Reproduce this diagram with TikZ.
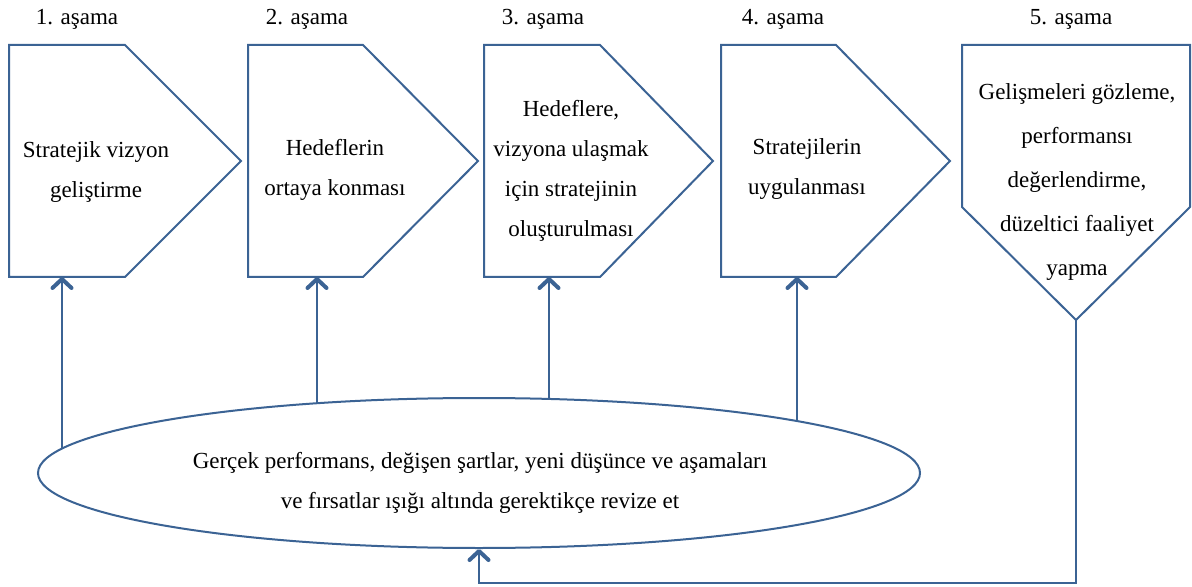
\documentclass[tikz,border=0pt]{standalone}
\usepackage{fontspec}
\setmainfont{Liberation Serif}
\usetikzlibrary{arrows.meta,calc,shapes.geometric}
\definecolor{edgeblue}{RGB}{59,99,148}

% pentagon outlines built on a rectangular body node
\newcommand\pentright[2]{\draw[outline] (#1.north west) -- (#1.north east)
  -- ($(#1.east)+(#2,0)$) -- (#1.south east) -- (#1.south west) -- cycle;}
\newcommand\pentdown[2]{\draw[outline] (#1.north west) -- (#1.north east)
  -- (#1.south east) -- ($(#1.south)+(0,#2)$) -- (#1.south west) -- cycle;}

\begin{document}
\begin{tikzpicture}[x=0.5pt,y=-0.5pt,
  stagebody/.style={rectangle,draw=none,inner sep=0pt,outer sep=0pt},
  outline/.style={draw=edgeblue,line width=1pt,line join=miter},
  stagetext/.style={align=center,inner sep=0pt,font=\fontsize{11.5}{20}\selectfont},
  stagelabel/.style={anchor=base,inner sep=0pt,font=\fontsize{11.5}{14}\selectfont},
  conn/.style={draw=edgeblue,line width=1.4pt},
  feedback/.style={conn,-{Straight Barb[round,length=4.5pt,width=9.5pt,line width=2pt]}}]

\fill[white] (0,0) rectangle (1192,587);
\useasboundingbox (0,0) rectangle (1192,587);

% stage bodies
\node[stagebody,minimum width=58pt,minimum height=116pt] (p1) at (67,161) {};
\node[stagebody,minimum width=57.5pt,minimum height=116pt] (p2) at (305.5,161) {};
\node[stagebody,minimum width=58pt,minimum height=116pt] (p3) at (542,161) {};
\node[stagebody,minimum width=57.5pt,minimum height=116pt] (p4) at (778.5,161) {};
\node[stagebody,minimum width=114pt,minimum height=81pt] (p5) at (1076,126) {};

\pentright{p1}{116}
\pentright{p2}{115}
\pentright{p3}{113}
\pentright{p4}{114}
\pentdown{p5}{113}
\coordinate (p5tip) at ($(p5.south)+(0,113)$);

% stage numbers
\node[stagelabel] (l1) at (77,25) {1. aşama};
\node[stagelabel] (l2) at (307,25) {2. aşama};
\node[stagelabel] (l3) at (543,25) {3. aşama};
\node[stagelabel] (l4) at (783,25) {4. aşama};
\node[stagelabel] (l5) at (1071,25) {5. aşama};

% stage texts
\node[stagetext] (t1) at (96,172) {Stratejik vizyon\\geliştirme};
\node[stagetext] (t2) at (335,170) {Hedeflerin\\ortaya konması};
\node[stagetext] (t3) at (571,171) {Hedeflere,\\vizyona ulaşmak\\için stratejinin\\oluşturulması};
\node[stagetext] (t4) at (807,169) {Stratejilerin\\uygulanması};
\node[stagetext,font=\fontsize{11.5}{22}\selectfont] (t5) at (1077,182)
  {Gelişmeleri gözleme,\\performansı\\değerlendirme,\\düzeltici faaliyet\\yapma};

% revision ellipse
\node[ellipse,draw=edgeblue,line width=1pt,fill=white,inner sep=0pt,
  minimum width=441pt,minimum height=75pt] (el) at (479,473) {};
\node[stagetext] (et) at (480,483)
  {Gerçek performans, değişen şartlar, yeni düşünce ve aşamaları\\ve fırsatlar ışığı altında gerektikçe revize et};

% feet of the feedback arrows, on the ellipse border
\coordinate (f1) at ($(el.center)+(-417,-24.4)$);
\coordinate (f2) at ($(el.center)+(-162,-69.8)$);
\coordinate (f3) at ($(el.center)+(70,-74.0)$);
\coordinate (f4) at ($(el.center)+(318,-52.0)$);
\coordinate (low) at (0,583);

% feedback connectors
\draw[feedback] (f1) -- (f1 |- p1.south);
\draw[feedback] (f2) -- (f2 |- p2.south);
\draw[feedback] (f3) -- (f3 |- p3.south);
\draw[feedback] (f4) -- (f4 |- p4.south);
\draw[feedback] (p5tip) -- (p5tip |- low) -| (el.south);
\end{tikzpicture}
\end{document}
